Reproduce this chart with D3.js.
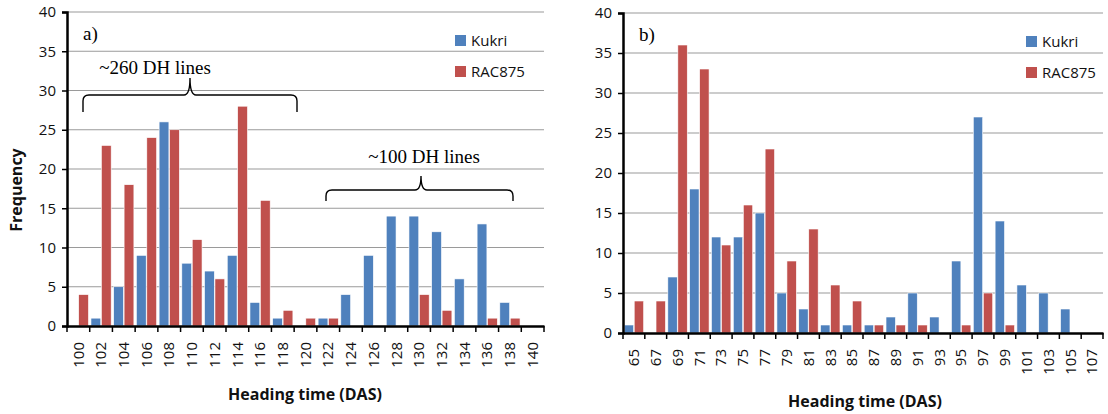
<!DOCTYPE html>
<html>
<head>
<meta charset="utf-8">
<script src="https://cdn.jsdelivr.net/npm/d3@7"></script>
<style>
  body { margin: 0; background: #fff; }
  svg text { font-family: "Open Sans", "Noto Sans", sans-serif; }
</style>
</head>
<body>
<svg width="1108" height="414"></svg>
<script>
// panel a) data
var daysA = ["100","102","104","106","108","110","112","114","116","118","120",
             "122","124","126","128","130","132","134","136","138","140"];
var kukriA = [0,1,5,9,26,8,7,9,3,1,0,1,4,9,14,14,12,6,13,3,0];
var racA   = [4,23,18,24,25,11,6,28,16,2,1,1,0,0,0,4,2,0,1,1,0];

// panel b) data
var daysB = ["65","67","69","71","73","75","77","79","81","83","85",
             "87","89","91","93","95","97","99","101","103","105","107"];
var kukriB = [1,0,7,18,12,12,15,5,3,1,1,1,2,5,2,9,27,14,6,5,3,0];
var racB   = [4,4,36,33,11,16,23,9,13,6,4,1,1,1,0,1,5,1,0,0,0,0];

var yTicks = [0,5,10,15,20,25,30,35,40];
var seriesNames = ["Kukri", "RAC875"];
var colors = ["#4F81BD", "#C0504D"];
var serif = "'Liberation Serif', 'DejaVu Serif', serif";

var svg = d3.select("svg");

function drawPanel(opt) {
  var g = svg.append("g");
  var x = d3.scaleBand().domain(opt.days).range([opt.x0, opt.x1]);
  var y = d3.scaleLinear().domain([0, 40]).range([opt.y0, opt.y1]);
  var inner = d3.scaleBand().domain(seriesNames).range([0, x.bandwidth()]).paddingInner(0.06).paddingOuter(0.12);

  // grid
  g.selectAll("line.grid").data(yTicks.slice(1)).enter().append("line")
    .attr("x1", opt.x0).attr("x2", opt.x1)
    .attr("y1", function(d){ return y(d); }).attr("y2", function(d){ return y(d); })
    .attr("stroke", "#9a9a9a").attr("stroke-width", 1.2);

  // bars
  var rows = opt.days.map(function(d, i) {
    return [{day: d, s: "Kukri", v: opt.kukri[i]}, {day: d, s: "RAC875", v: opt.rac[i]}];
  });
  var flat = [].concat.apply([], rows).filter(function(d){ return d.v > 0; });
  g.selectAll("rect.bar").data(flat).enter().append("rect")
    .attr("x", function(d){ return x(d.day) + inner(d.s); })
    .attr("width", inner.bandwidth())
    .attr("y", function(d){ return y(d.v); })
    .attr("height", function(d){ return y(0) - y(d.v); })
    .attr("fill", function(d){ return d.s == "Kukri" ? colors[0] : colors[1]; })
    .attr("stroke", "#fff").attr("stroke-width", 0.6);

  // y axis
  var yAxis = d3.axisLeft(y).tickValues(yTicks).tickSize(5).tickPadding(6);
  var ya = g.append("g").attr("transform", "translate(" + opt.x0 + ",0)").call(yAxis);
  ya.select(".domain").attr("stroke", "#000").attr("stroke-width", 2.5);
  ya.selectAll(".tick line").attr("stroke", "#000").attr("stroke-width", 1.5);
  ya.selectAll("text").attr("font-size", 15).attr("fill", "#111");

  // x axis
  var xAxis = d3.axisBottom(x).tickSize(0).tickPadding(0);
  var xa = g.append("g").attr("transform", "translate(0," + opt.y0 + ")").call(xAxis);
  xa.select(".domain").attr("stroke", "#000").attr("stroke-width", 2.5);
  xa.selectAll(".tick text")
    .attr("font-size", 15).attr("fill", "#111")
    .attr("text-anchor", "end").attr("dy", "0.35em")
    .attr("transform", "translate(0,16) rotate(-90)");
  // tick marks between categories
  var edges = opt.days.map(function(d){ return x(d); }).concat([opt.x1]);
  xa.selectAll("line.sep").data(edges).enter().append("line")
    .attr("x1", function(d){ return d; }).attr("x2", function(d){ return d; })
    .attr("y1", 0).attr("y2", 6).attr("stroke", "#000").attr("stroke-width", 1.5);

  // legend
  seriesNames.forEach(function(s, i) {
    g.append("rect").attr("x", opt.legX).attr("y", opt.legY + i * 31 - 5)
      .attr("width", 11).attr("height", 11).attr("fill", colors[i]);
    g.append("text").attr("x", opt.legX + 16).attr("y", opt.legY + i * 31 + 6)
      .attr("font-size", 15).attr("fill", "#111").text(s);
  });

  // panel label
  g.append("text").attr("x", opt.x0 + 16).attr("y", opt.y1 + 28)
    .style("font-family", serif).attr("font-size", 19)
    .attr("fill", "#000").text(opt.label);

  // x title
  g.append("text").attr("x", opt.titleX).attr("y", opt.titleY)
    .attr("text-anchor", "middle").attr("font-size", 16).attr("font-weight", "bold")
    .attr("fill", "#111").text("Heading time (DAS)");

  return {x: x, y: y, g: g};
}

var pa = drawPanel({days: daysA, kukri: kukriA, rac: racA,
  x0: 67, x1: 544, y0: 326, y1: 12, legX: 455, legY: 40, label: "a)",
  titleX: 305, titleY: 400});
var pb = drawPanel({days: daysB, kukri: kukriB, rac: racB,
  x0: 623, x1: 1103, y0: 333, y1: 13, legX: 1026, legY: 41, label: "b)",
  titleX: 865, titleY: 407});

// y title for panel a
svg.append("text").attr("transform", "translate(22,190) rotate(-90)")
  .attr("text-anchor", "middle").attr("font-size", 16).attr("font-weight", "bold")
  .attr("fill", "#111").text("Frequency");

// braces and annotations on panel a
function brace(g, xl, xr, yTop, yEnd, xm, yTip) {
  var r = 6;
  var p = d3.path();
  p.moveTo(xl, yEnd);
  p.lineTo(xl, yTop + r);
  p.quadraticCurveTo(xl, yTop, xl + r, yTop);
  p.lineTo(xm - r, yTop);
  p.quadraticCurveTo(xm, yTop, xm, yTip);
  p.moveTo(xm, yTip);
  p.quadraticCurveTo(xm, yTop, xm + r, yTop);
  p.lineTo(xr - r, yTop);
  p.quadraticCurveTo(xr, yTop, xr, yTop + r);
  p.lineTo(xr, yEnd);
  g.append("path").attr("d", p.toString()).attr("fill", "none")
    .attr("stroke", "#000").attr("stroke-width", 1.4);
}
brace(pa.g, 83, 297, 95, 112, 190, 78);
brace(pa.g, 326, 513, 190, 201, 421, 176);
pa.g.append("text").attr("x", 155).attr("y", 74).attr("text-anchor", "middle")
  .style("font-family", serif).attr("font-size", 19).text("~260 DH lines");
pa.g.append("text").attr("x", 424).attr("y", 163).attr("text-anchor", "middle")
  .style("font-family", serif).attr("font-size", 19).text("~100 DH lines");
</script>
</body>
</html>
